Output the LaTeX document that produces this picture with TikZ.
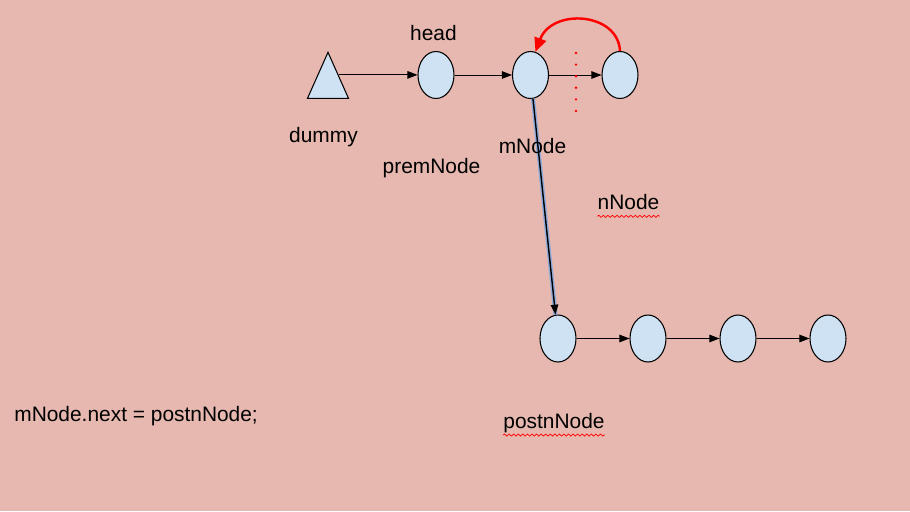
\documentclass[tikz,border=0pt]{standalone}
\usepackage{fontspec}
\setmainfont{Liberation Sans}
\usetikzlibrary{shapes.geometric,arrows.meta,decorations.pathmorphing}
\definecolor{slidebg}{HTML}{E6B8AF}
\definecolor{cellblue}{HTML}{CFE2F3}
\definecolor{selblue}{HTML}{8EAADB}
\definecolor{markred}{HTML}{FF0000}

\begin{document}
\begin{tikzpicture}[x=0.02cm, y=0.02cm]
        \tikzstyle{every node}+=[inner sep=0pt]
        \tikzstyle{cell}=[draw=black, fill=cellblue, ellipse, line width=0.6pt, minimum width=0.72cm, minimum height=0.94cm]
        \tikzstyle{txt}=[font=\fontsize{11.9}{14}\selectfont, anchor=base]
        \tikzstyle{link}=[draw=black, line width=0.5pt, -{Triangle[length=2mm,width=1.5mm]}]
        \tikzstyle{squiggle}=[draw=markred, line width=0.4pt, decorate, decoration={snake, amplitude=0.6pt, segment length=2.6pt}]
        \fill [slidebg] (0,0) rectangle (910,-511);
        \useasboundingbox (0,0) rectangle (910,-511);
        \node (dummy) at (328,-85) [draw=black, fill=cellblue, isosceles triangle, shape border rotate=90, isosceles triangle stretches, minimum width=0.82cm, minimum height=0.92cm, line width=0.6pt] {};
        \node (head) at (436,-75) [cell] {};
        \node (mnode) at (530.5,-75) [cell] {};
        \node (nnode) at (620,-75) [cell] {};
        \node (p1) at (558,-338.5) [cell] {};
        \node (p2) at (648,-338.5) [cell] {};
        \node (p3) at (738,-338.5) [cell] {};
        \node (p4) at (828,-338.5) [cell] {};
        \draw [link] (dummy.right side) -- (dummy.right side -| head.west);
        \draw [link] (head) -- (mnode);
        \draw [link] (mnode) -- (nnode);
        \draw [link] (p1) -- (p2);
        \draw [link] (p2) -- (p3);
        \draw [link] (p3) -- (p4);
        \draw [selblue, line width=2.4pt] (mnode) -- (p1);
        \draw [link, line width=0.8pt] (mnode) -- (p1);
        \draw [markred, line width=1.5pt, line cap=round, dash pattern=on 0pt off 6.6pt] (576,-53) -- (576,-117);
        \draw [markred, line width=1.4pt, -{Triangle[length=2.8mm,width=2.4mm]}] (nnode.north) .. controls (618,-12) and (552,-8) .. (mnode.78);
        \node (lhead) at (433.5,-40.7) [txt] {head};
        \node (ldummy) at (323.5,-142.7) [txt] {dummy};
        \node (lprem) at (431.5,-173.3) [txt] {premNode};
        \node (lm) at (532.5,-153.3) [txt] {mNode};
        \node (ln) at (628.5,-209.3) [txt] {nNode};
        \node (lpostn) at (554,-428) [txt] {postnNode};
        \node (code) at (14,-421.7) [txt, anchor=base west] {mNode.next = postnNode;};
        \draw [squiggle] ([yshift=-4pt]ln.base west) -- ([yshift=-4pt]ln.base east);
        \draw [squiggle] ([yshift=-4pt]lpostn.base west) -- ([yshift=-4pt]lpostn.base east);
\end{tikzpicture}
\end{document}
